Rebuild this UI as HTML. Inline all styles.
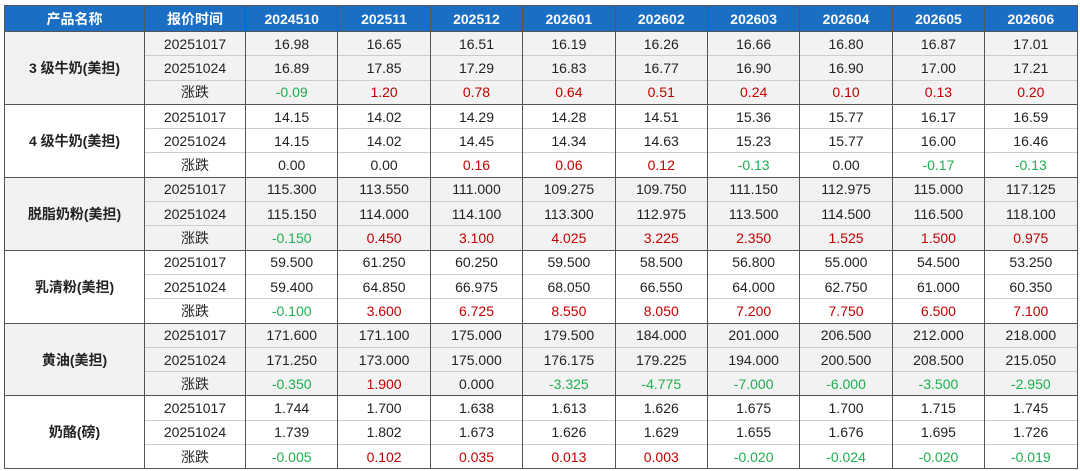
<!DOCTYPE html>
<html><head><meta charset="utf-8"><style>
body{margin:0;background:#fff;width:1080px;height:471px;overflow:hidden}
table{position:absolute;left:4px;top:5px;border-collapse:collapse;table-layout:fixed;font-family:"Liberation Sans","Noto Sans CJK SC",sans-serif;font-size:14px;color:#222}
th{background:#1a6fc4;color:#fff;font-weight:bold;height:25px;border:1px solid #555;padding:0;font-size:14px}
td{height:23.3px;padding:0;text-align:center;border-left:1px solid #555;border-right:1px solid #555;border-top:1px solid #ccc;white-space:nowrap}
td.n{font-weight:bold;border-top:1px solid #555}
tr.f td{border-top:1px solid #555}
.g td{background:#f2f2f2}
.gr{color:#1fae50}.r{color:#c00000}
table{border-bottom:1px solid #555}
</style></head><body>
<table>
<colgroup><col style="width:140px"><col style="width:101px"><col span="9" style="width:92.4px"></colgroup>
<tr><th>产品名称</th><th>报价时间</th><th>2024510</th><th>202511</th><th>202512</th><th>202601</th><th>202602</th><th>202603</th><th>202604</th><th>202605</th><th>202606</th></tr>
<tbody class="g">
<tr class="f"><td class="n" rowspan="3">3 级牛奶(美担)</td><td>20251017</td><td>16.98</td><td>16.65</td><td>16.51</td><td>16.19</td><td>16.26</td><td>16.66</td><td>16.80</td><td>16.87</td><td>17.01</td></tr>
<tr><td>20251024</td><td>16.89</td><td>17.85</td><td>17.29</td><td>16.83</td><td>16.77</td><td>16.90</td><td>16.90</td><td>17.00</td><td>17.21</td></tr>
<tr><td>涨跌</td><td class="gr">-0.09</td><td class="r">1.20</td><td class="r">0.78</td><td class="r">0.64</td><td class="r">0.51</td><td class="r">0.24</td><td class="r">0.10</td><td class="r">0.13</td><td class="r">0.20</td></tr>
</tbody><tbody>
<tr class="f"><td class="n" rowspan="3">4 级牛奶(美担)</td><td>20251017</td><td>14.15</td><td>14.02</td><td>14.29</td><td>14.28</td><td>14.51</td><td>15.36</td><td>15.77</td><td>16.17</td><td>16.59</td></tr>
<tr><td>20251024</td><td>14.15</td><td>14.02</td><td>14.45</td><td>14.34</td><td>14.63</td><td>15.23</td><td>15.77</td><td>16.00</td><td>16.46</td></tr>
<tr><td>涨跌</td><td>0.00</td><td>0.00</td><td class="r">0.16</td><td class="r">0.06</td><td class="r">0.12</td><td class="gr">-0.13</td><td>0.00</td><td class="gr">-0.17</td><td class="gr">-0.13</td></tr>
</tbody><tbody class="g">
<tr class="f"><td class="n" rowspan="3">脱脂奶粉(美担)</td><td>20251017</td><td>115.300</td><td>113.550</td><td>111.000</td><td>109.275</td><td>109.750</td><td>111.150</td><td>112.975</td><td>115.000</td><td>117.125</td></tr>
<tr><td>20251024</td><td>115.150</td><td>114.000</td><td>114.100</td><td>113.300</td><td>112.975</td><td>113.500</td><td>114.500</td><td>116.500</td><td>118.100</td></tr>
<tr><td>涨跌</td><td class="gr">-0.150</td><td class="r">0.450</td><td class="r">3.100</td><td class="r">4.025</td><td class="r">3.225</td><td class="r">2.350</td><td class="r">1.525</td><td class="r">1.500</td><td class="r">0.975</td></tr>
</tbody><tbody>
<tr class="f"><td class="n" rowspan="3">乳清粉(美担)</td><td>20251017</td><td>59.500</td><td>61.250</td><td>60.250</td><td>59.500</td><td>58.500</td><td>56.800</td><td>55.000</td><td>54.500</td><td>53.250</td></tr>
<tr><td>20251024</td><td>59.400</td><td>64.850</td><td>66.975</td><td>68.050</td><td>66.550</td><td>64.000</td><td>62.750</td><td>61.000</td><td>60.350</td></tr>
<tr><td>涨跌</td><td class="gr">-0.100</td><td class="r">3.600</td><td class="r">6.725</td><td class="r">8.550</td><td class="r">8.050</td><td class="r">7.200</td><td class="r">7.750</td><td class="r">6.500</td><td class="r">7.100</td></tr>
</tbody><tbody class="g">
<tr class="f"><td class="n" rowspan="3">黄油(美担)</td><td>20251017</td><td>171.600</td><td>171.100</td><td>175.000</td><td>179.500</td><td>184.000</td><td>201.000</td><td>206.500</td><td>212.000</td><td>218.000</td></tr>
<tr><td>20251024</td><td>171.250</td><td>173.000</td><td>175.000</td><td>176.175</td><td>179.225</td><td>194.000</td><td>200.500</td><td>208.500</td><td>215.050</td></tr>
<tr><td>涨跌</td><td class="gr">-0.350</td><td class="r">1.900</td><td>0.000</td><td class="gr">-3.325</td><td class="gr">-4.775</td><td class="gr">-7.000</td><td class="gr">-6.000</td><td class="gr">-3.500</td><td class="gr">-2.950</td></tr>
</tbody><tbody>
<tr class="f"><td class="n" rowspan="3">奶酪(磅)</td><td>20251017</td><td>1.744</td><td>1.700</td><td>1.638</td><td>1.613</td><td>1.626</td><td>1.675</td><td>1.700</td><td>1.715</td><td>1.745</td></tr>
<tr><td>20251024</td><td>1.739</td><td>1.802</td><td>1.673</td><td>1.626</td><td>1.629</td><td>1.655</td><td>1.676</td><td>1.695</td><td>1.726</td></tr>
<tr><td>涨跌</td><td class="gr">-0.005</td><td class="r">0.102</td><td class="r">0.035</td><td class="r">0.013</td><td class="r">0.003</td><td class="gr">-0.020</td><td class="gr">-0.024</td><td class="gr">-0.020</td><td class="gr">-0.019</td></tr>
</tbody>
</table>
</body></html>
